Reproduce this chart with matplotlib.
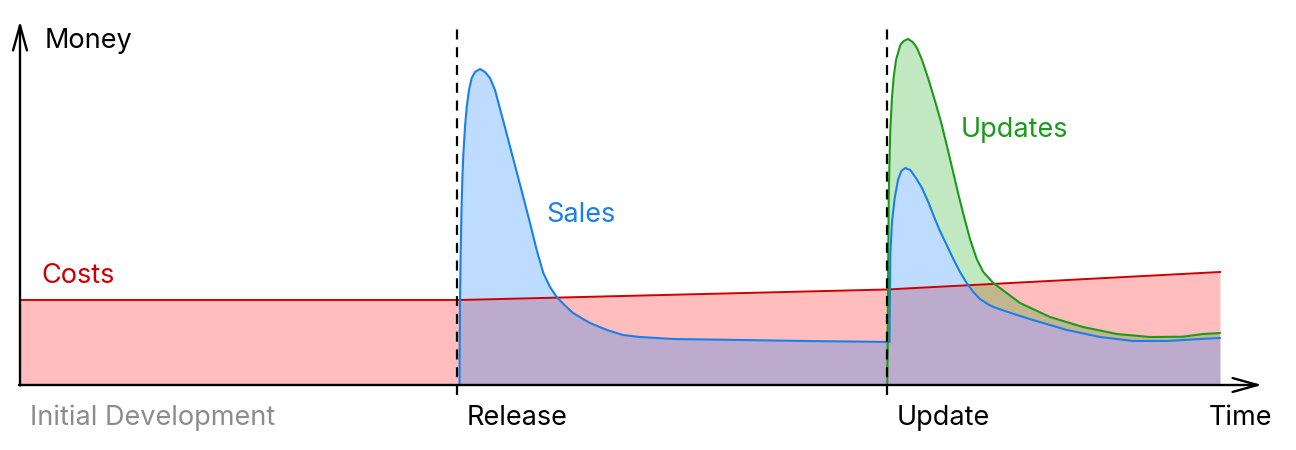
import numpy as np
import matplotlib
matplotlib.use("Agg")
import matplotlib.pyplot as plt

plt.rcParams['font.family'] = ['Inter', 'DejaVu Sans']

# ---- data (time units, money units) ----
cost_t = [0.0, 44.0, 86.7, 120.0]
cost_m = [85, 85, 95.5, 113]

sales_t = [43.95, 44.0, 44.07, 44.15, 44.23, 44.33, 44.5, 44.67, 44.9, 45.17, 45.5,
           46.0, 46.5, 47.0, 47.5, 48.17, 48.83, 49.67, 50.33, 51.0, 51.67, 52.33,
           53.0, 53.67, 54.5, 55.3, 57.0, 58.7, 60.3, 62.0, 65.3, 72.0, 78.7, 86.95,
           87.03, 87.2, 87.47, 87.8, 88.13, 88.53, 89.03, 89.53, 90.2, 90.87, 91.53,
           92.0, 92.67, 93.33, 94.0, 94.67, 95.33, 96.0, 96.67, 97.33, 98.5, 100.0,
           101.3, 104.7, 108.0, 111.3, 114.7, 118.0, 120.0]
sales_m = [0, 85, 135, 175, 205, 230, 258, 278, 295, 307, 313,
           316, 313, 307, 295, 270, 245, 213, 188, 162, 135, 112,
           98, 88, 79.5, 72, 62, 55, 50, 48, 46, 45, 44, 43,
           130, 163, 187, 205, 214, 217, 215, 208, 197, 182, 165,
           154, 140, 126, 113, 102, 93, 86, 81.5, 78, 74, 69,
           65, 55, 48, 44, 44, 46, 47]
upd_start = 33  # index of the last pre-update sales point

updates_t = [86.73, 86.8, 86.87, 86.95, 87.03, 87.2, 87.37, 87.6, 88.03, 88.37, 88.8,
             89.27, 89.7, 90.2, 90.87, 91.53, 92.13, 92.67, 93.5, 93.83, 94.33, 95.0,
             95.67, 96.33, 97.33, 98.67, 100.0, 103.0, 106.3, 109.7, 113.0, 116.3,
             118.3, 120.0]
updates_m = [0, 95, 185, 225, 255, 288, 308, 325, 340, 344, 346,
             343, 337, 325, 305, 283, 262, 240, 205, 191, 171, 146,
             126, 113, 102, 92, 82, 68, 58, 51, 48, 48.3,
             51, 52]

release_t = 43.7
update_t = 86.7

labels_bottom = ["Initial Development", "Release", "Update", "Time"]

# ---- colours ----
RED_LINE = '#cc0000'
BLUE_LINE = '#1a7fe8'
GREEN_LINE = '#1a9a1a'

fig = plt.figure(figsize=(12.96, 4.5), dpi=100)
ax = fig.add_axes([0, 0, 1, 1])
ax.set_xlim(-2, 127.6)
ax.set_ylim(-65, 385)
ax.axis('off')

# fills
ax.fill_between(cost_t, 0, cost_m, color=(1, 0, 0), alpha=0.26, lw=0, zorder=1)
ax.fill_between(sales_t, 0, sales_m, color=(0, 0.478, 1), alpha=0.26, lw=0, zorder=2)
st = np.array(sales_t[upd_start:])
sm = np.array(sales_m[upd_start:])
poly_t = np.concatenate([updates_t, st[::-1]])
poly_m = np.concatenate([updates_m, sm[::-1]])
ax.fill(poly_t, poly_m, color=(0, 0.63, 0), alpha=0.24, lw=0, zorder=3)

# lines
ax.plot(cost_t, cost_m, color=RED_LINE, lw=1.4, zorder=5)
ax.plot(sales_t, sales_m, color=BLUE_LINE, lw=1.5, zorder=6,
        solid_joinstyle='round', solid_capstyle='round')
ax.plot(updates_t, updates_m, color=GREEN_LINE, lw=1.5, zorder=6,
        solid_joinstyle='round', solid_capstyle='round')

# dashed markers
for xv in (release_t, update_t):
    ax.plot([xv, xv], [-10, 363], color='black', lw=1.6, linestyle=(0, (4.5, 3.5)), zorder=7)

# axes arrows
arrow_kw = dict(arrowstyle='->,head_length=1.8,head_width=0.5', color='black', lw=1.7,
                shrinkA=0, shrinkB=0)
ax.annotate('', xy=(0, 364), xytext=(0, -0.5), arrowprops=arrow_kw, zorder=8)
ax.annotate('', xy=(124.2, 0), xytext=(-0.1, 0), arrowprops=arrow_kw, zorder=8)

fs = 19.5
ax.text(2.5, 337, "Money", fontsize=fs, color='black', va='baseline', ha='left')
ax.text(1.0, -40, labels_bottom[0], fontsize=fs, color='#8c8c8c', va='baseline', ha='left')
ax.text(44.7, -40, labels_bottom[1], fontsize=fs, color='black', va='baseline', ha='left')
ax.text(87.7, -40, labels_bottom[2], fontsize=fs, color='black', va='baseline', ha='left')
ax.text(118.9, -40, labels_bottom[3], fontsize=fs, color='black', va='baseline', ha='left')
ax.text(2.1, 102, "Costs", fontsize=fs, color=RED_LINE, va='baseline', ha='left')
ax.text(52.6, 163, "Sales", fontsize=fs, color=BLUE_LINE, va='baseline', ha='left')
ax.text(94.1, 248, "Updates", fontsize=fs, color=GREEN_LINE, va='baseline', ha='left')

fig.savefig('out.png', dpi=100)
